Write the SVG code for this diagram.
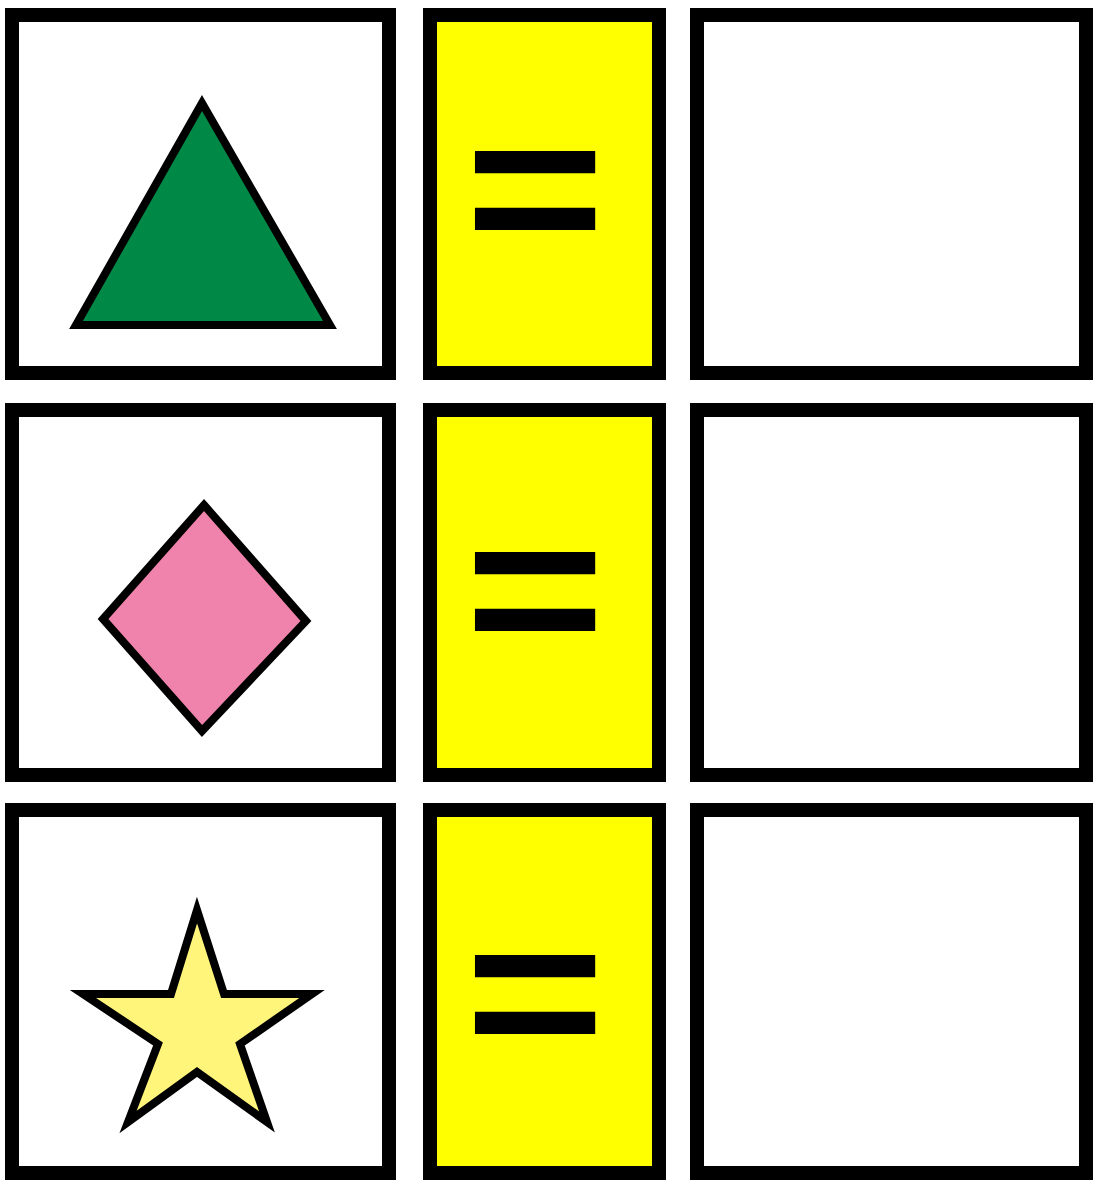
<svg xmlns="http://www.w3.org/2000/svg" width="1115" height="1180" viewBox="0 0 1115 1180">
<style>
.box{fill:#ffffff;stroke:#000;stroke-width:14}
.eqbox{fill:#ffff00;stroke:#000;stroke-width:14}
.eq{font-family:"Liberation Sans",Arial,sans-serif;font-size:235px;fill:#000;stroke:#000;stroke-width:6;stroke-linejoin:miter;text-anchor:middle}
.shape{stroke:#000;stroke-width:8;stroke-linejoin:miter}
</style>
<rect width="1115" height="1180" fill="#ffffff"/>
<g id="row1">
<g id="cell-1-1"><rect class="box" x="12" y="15" width="377" height="358"/><polygon class="shape" fill="#008847" points="202,103 76,325 330,325"/></g>
<g id="cell-1-2"><rect class="eqbox" x="430" y="15" width="229" height="358"/><text class="eq" transform="translate(535 264.5) scale(1 0.96)" x="0" y="0">=</text></g>
<g id="cell-1-3"><rect class="box" x="697" y="15" width="389" height="358"/></g>
</g>
<g id="row2">
<g id="cell-2-1"><rect class="box" x="12" y="410" width="377" height="365"/><polygon class="shape" fill="#f083ab" points="204,505 306,621 202,731 103,619"/></g>
<g id="cell-2-2"><rect class="eqbox" x="430" y="410" width="229" height="365"/><text class="eq" transform="translate(535 666) scale(1 0.96)" x="0" y="0">=</text></g>
<g id="cell-2-3"><rect class="box" x="697" y="410" width="389" height="365"/></g>
</g>
<g id="row3">
<g id="cell-3-1"><rect class="box" x="12" y="810" width="377" height="363"/><polygon class="shape" fill="#fff57a" points="197,910 224,994 312,994 240,1044 267,1122 197,1072 128,1122 158,1044 83,994 171,994"/></g>
<g id="cell-3-2"><rect class="eqbox" x="430" y="810" width="229" height="363"/><text class="eq" transform="translate(535 1068.5) scale(1 0.96)" x="0" y="0">=</text></g>
<g id="cell-3-3"><rect class="box" x="697" y="810" width="389" height="363"/></g>
</g>
<g id="connectors"/>
</svg>
